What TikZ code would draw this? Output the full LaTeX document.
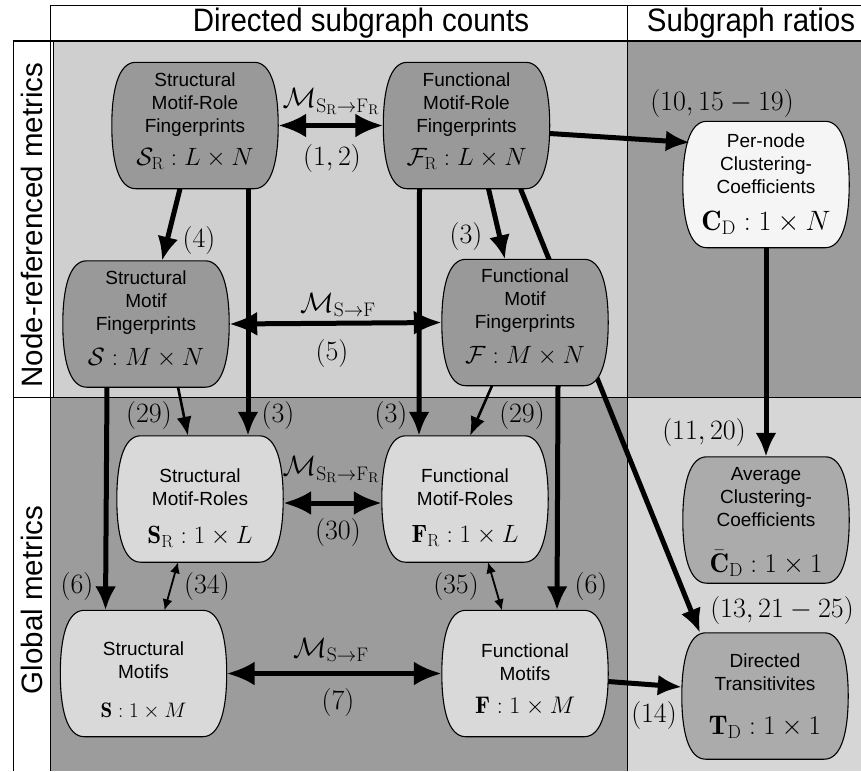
\RequirePackage{fix-cm}
\documentclass[tikz,border=0pt]{standalone}
\usepackage{fontspec}
\setsansfont{Liberation Sans}
\usetikzlibrary{arrows.meta}
\pgfdeclarelayer{panels}
\pgfdeclarelayer{behind}
\pgfdeclarelayer{shapes}
\pgfsetlayers{panels,behind,shapes,main}
\definecolor{panelTL}{gray}{0.81}
\definecolor{panelDk}{gray}{0.61}
\definecolor{panelBR}{gray}{0.84}
\definecolor{nodeDark}{gray}{0.60}
\definecolor{nodeMid}{gray}{0.67}
\definecolor{nodeLight}{gray}{0.85}
\definecolor{nodeWhite}{gray}{0.96}
\newcommand{\nm}[2]{{\fontsize{#1}{30}\selectfont$#2$}}
\newcommand{\barrel}[2]{%
 \path[draw=black, line width=1.1pt, fill=#2]
 ([xshift=24pt]#1.north west) -- ([xshift=-24pt]#1.north east)
 .. controls ([xshift=-6pt]#1.north east) and ([yshift=34pt]#1.east) .. (#1.east)
 .. controls ([yshift=-34pt]#1.east) and ([xshift=-6pt]#1.south east) .. ([xshift=-24pt]#1.south east)
 -- ([xshift=24pt]#1.south west)
 .. controls ([xshift=6pt]#1.south west) and ([yshift=-34pt]#1.west) .. (#1.west)
 .. controls ([yshift=34pt]#1.west) and ([xshift=6pt]#1.north west) .. cycle;}
\begin{document}
\begin{tikzpicture}[x=1pt,y=-1pt,
  shp/.style={rectangle, draw=none, minimum width=166pt, minimum height=126pt, inner sep=0pt},
  txt/.style={anchor=base, inner sep=0pt, font=\fontsize{19}{23}\selectfont\sffamily},
  lbl/.style={inner sep=0pt, font=\fontsize{28}{30}\selectfont},
  hdr/.style={inner sep=0pt, anchor=base, font=\fontsize{29.5}{32}\selectfont\sffamily},
  frame/.style={draw=black, line width=1pt},
  arrBig/.style={line width=5pt, -{Latex[length=24pt,width=21pt]}},
  arrBi/.style={line width=5pt, {Latex[length=28pt,width=24pt]}-{Latex[length=28pt,width=24pt]}},
  arrMid/.style={line width=2.6pt, -{Latex[length=19pt,width=15pt]}},
  arrSmall/.style={line width=1.8pt, {Latex[length=11pt,width=10pt]}-{Latex[length=11pt,width=10pt]}}]
\useasboundingbox (0,0) rectangle (861,771);
% panels
\begin{pgfonlayer}{panels}
\fill[white] (0,0) rectangle (861,771);
\path[fill=panelTL] (53,41) rectangle (627,397);
\path[fill=panelDk] (627,41) rectangle (861,397);
\path[fill=panelDk] (50,397) rectangle (627,771);
\path[fill=panelBR] (627,397) rectangle (861,771);
\draw[frame] (50,5) -- (861,5);
\draw[frame] (50,5) -- (50,771);
\draw[frame] (13,41) -- (13,771);
\draw[frame] (53,41) -- (53,397);
\draw[frame] (627,5) -- (627,771);
\draw[frame, line width=1.6pt] (13,41) -- (861,41);
\draw[frame] (13,397) -- (861,397);
\end{pgfonlayer}
% headers
\node[hdr] (h1) at (361,31) {\scalebox{1}[1.1]{Directed subgraph counts}};
\node[hdr] (h2) at (751,31) {\scalebox{1}[1.1]{Subgraph ratios}};
\node[hdr, rotate=90] (h3) at (42,225) {Node-referenced metrics};
\node[hdr, rotate=90] (h4) at (42,600) {Global metrics};
% node frames
\node[shp] (SRF) at (195,125.5) {};
\node[shp] (FRF) at (466.5,125.5) {};
\node[shp] (PN) at (766,184.5) {};
\node[shp] (SF) at (146,324) {};
\node[shp] (FF) at (525,322.5) {};
\node[shp] (SR) at (200,499) {};
\node[shp] (FR) at (465,499) {};
\node[shp] (AVG) at (766,520) {};
\node[shp] (S) at (143.5,673.5) {};
\node[shp] (F) at (525,673.5) {};
\node[shp] (TD) at (765,696) {};
\begin{pgfonlayer}{shapes}
\barrel{SRF}{nodeDark}
\barrel{FRF}{nodeDark}
\barrel{PN}{nodeWhite}
\barrel{SF}{nodeDark}
\barrel{FF}{nodeDark}
\barrel{SR}{nodeLight}
\barrel{FR}{nodeLight}
\barrel{AVG}{nodeMid}
\barrel{S}{nodeLight}
\barrel{F}{nodeLight}
\barrel{TD}{nodeMid}
\end{pgfonlayer}
% node texts
\node[txt] (SRFt) at (195,86) {\begin{tabular}[t]{@{}c@{}}Structural\\Motif-Role\\Fingerprints\\[10pt]\nm{25}{\mathcal{S}_{\mathrm{R}} : L\times N}\end{tabular}};
\node[txt] (FRFt) at (466.5,86) {\begin{tabular}[t]{@{}c@{}}Functional\\Motif-Role\\Fingerprints\\[10pt]\nm{25}{\mathcal{F}_{\mathrm{R}} : L\times N}\end{tabular}};
\node[txt] (PNt) at (766,147) {\begin{tabular}[t]{@{}c@{}}Per-node\\Clustering-\\Coefficients\\[11pt]\nm{28}{\mathbf{C}_{\mathrm{D}} : 1\times N}\end{tabular}};
\node[txt] (SFt) at (146,284) {\begin{tabular}[t]{@{}c@{}}Structural\\Motif\\Fingerprints\\[12pt]\nm{25}{\mathcal{S} : M\times N}\end{tabular}};
\node[txt] (FFt) at (525,282) {\begin{tabular}[t]{@{}c@{}}Functional\\Motif\\Fingerprints\\[12pt]\nm{25}{\mathcal{F} : M\times N}\end{tabular}};
\node[txt] (SRt) at (200,482) {\begin{tabular}[t]{@{}c@{}}Structural\\Motif-Roles\\[14pt]\nm{25}{\mathbf{S}_{\mathrm{R}} : 1\times L}\end{tabular}};
\node[txt] (FRt) at (465,482) {\begin{tabular}[t]{@{}c@{}}Functional\\Motif-Roles\\[14pt]\nm{25}{\mathbf{F}_{\mathrm{R}} : 1\times L}\end{tabular}};
\node[txt] (AVGt) at (766,480) {\begin{tabular}[t]{@{}c@{}}Average\\Clustering-\\Coefficients\\[17pt]\nm{27}{\bar{\mathbf{C}}_{\mathrm{D}} : 1\times 1}\end{tabular}};
\node[txt] (St) at (143.5,655) {\begin{tabular}[t]{@{}c@{}}Structural\\Motifs\\[16pt]\nm{21}{\mathbf{S} : 1\times M}\end{tabular}};
\node[txt] (Ft) at (525,657) {\begin{tabular}[t]{@{}c@{}}Functional\\Motifs\\[10pt]\nm{24}{\mathbf{F} : 1\times M}\end{tabular}};
\node[txt] (TDt) at (765,667) {\begin{tabular}[t]{@{}c@{}}Directed\\Transitivites\\[19pt]\nm{27}{\mathbf{T}_{\mathrm{D}} : 1\times 1}\end{tabular}};
% connectors
\begin{pgfonlayer}{behind}
\draw[arrBig] ([xshift=54pt]FRF.south) -- ([xshift=-65pt]TD.north);
\end{pgfonlayer}
\draw[arrBi] (SRF.east) -- (FRF.west);
\draw[arrBig] ([xshift=-15pt]SRF.south) -- ([xshift=16pt]SF.north);
\draw[arrBig] ([xshift=53pt]SRF.south) -- ([xshift=48pt]SR.north);
\draw[arrBig] ([xshift=-47pt]FRF.south) -- ([xshift=-46pt]FR.north);
\draw[arrBig] ([xshift=22pt]FRF.south) -- ([xshift=-20pt]FF.north);
\draw[arrBig] ([yshift=-8pt]FRF.east) -- ([xshift=7pt,yshift=42pt]PN.west);
\draw[arrBi] (SF.east) -- (FF.west);
\draw[arrBig] ([xshift=-39pt]SF.south) -- ([xshift=-38pt]S.north);
\draw[arrMid] ([xshift=32pt]SF.south) -- ([xshift=-12pt]SR.north);
\draw[arrMid] ([xshift=-33pt]FF.south) -- ([xshift=5pt]FR.north);
\draw[arrBig] ([xshift=33pt]FF.south) -- ([xshift=32pt]F.north);
\draw[arrBi] ([yshift=-4pt]SR.east) -- ([yshift=-4pt]FR.west);
\draw[arrSmall] ([xshift=-22pt]SR.south) -- ([xshift=21pt]S.north);
\draw[arrSmall] ([xshift=23pt]FR.south) -- ([xshift=-23pt]F.north);
\draw[arrBi] (S.east) -- (F.west);
\draw[arrBig] ([yshift=-8pt]F.east) -- ([yshift=9pt]TD.west);
\draw[arrBig] (PN.south) -- (AVG.north);
% labels
\node[lbl] (m1) at (331,102) {$\mathcal{M}_{\mathrm{S_R}\to\mathrm{F_R}}$};
\node[lbl] (e12) at (332,158) {$(1,2)$};
\node[lbl] (e4) at (199,240) {$(4)$};
\node[lbl] (e3a) at (466,236) {$(3)$};
\node[lbl] (m2) at (338,305) {$\mathcal{M}_{\mathrm{S}\to\mathrm{F}}$};
\node[lbl] (e5) at (332,353) {$(5)$};
\node[lbl] (e1015) at (722,103) {$(10,15-19)$};
\node[lbl] (e29a) at (149,415) {$(29)$};
\node[lbl] (e3b) at (278,415) {$(3)$};
\node[lbl] (e3c) at (391,415) {$(3)$};
\node[lbl] (e29b) at (522,415) {$(29)$};
\node[lbl] (e1120) at (704,432) {$(11,20)$};
\node[lbl] (m3) at (331,470) {$\mathcal{M}_{\mathrm{S_R}\to\mathrm{F_R}}$};
\node[lbl] (e30) at (338,532) {$(30)$};
\node[lbl] (e6a) at (77,586) {$(6)$};
\node[lbl] (e34) at (207,586) {$(34)$};
\node[lbl] (e35) at (456,586) {$(35)$};
\node[lbl] (e6b) at (591,586) {$(6)$};
\node[lbl] (e1321) at (782,610) {$(13,21-25)$};
\node[lbl] (m4) at (331,650) {$\mathcal{M}_{\mathrm{S}\to\mathrm{F}}$};
\node[lbl] (e7) at (338,702) {$(7)$};
\node[lbl] (e14) at (654,715) {$(14)$};
\end{tikzpicture}
\end{document}
